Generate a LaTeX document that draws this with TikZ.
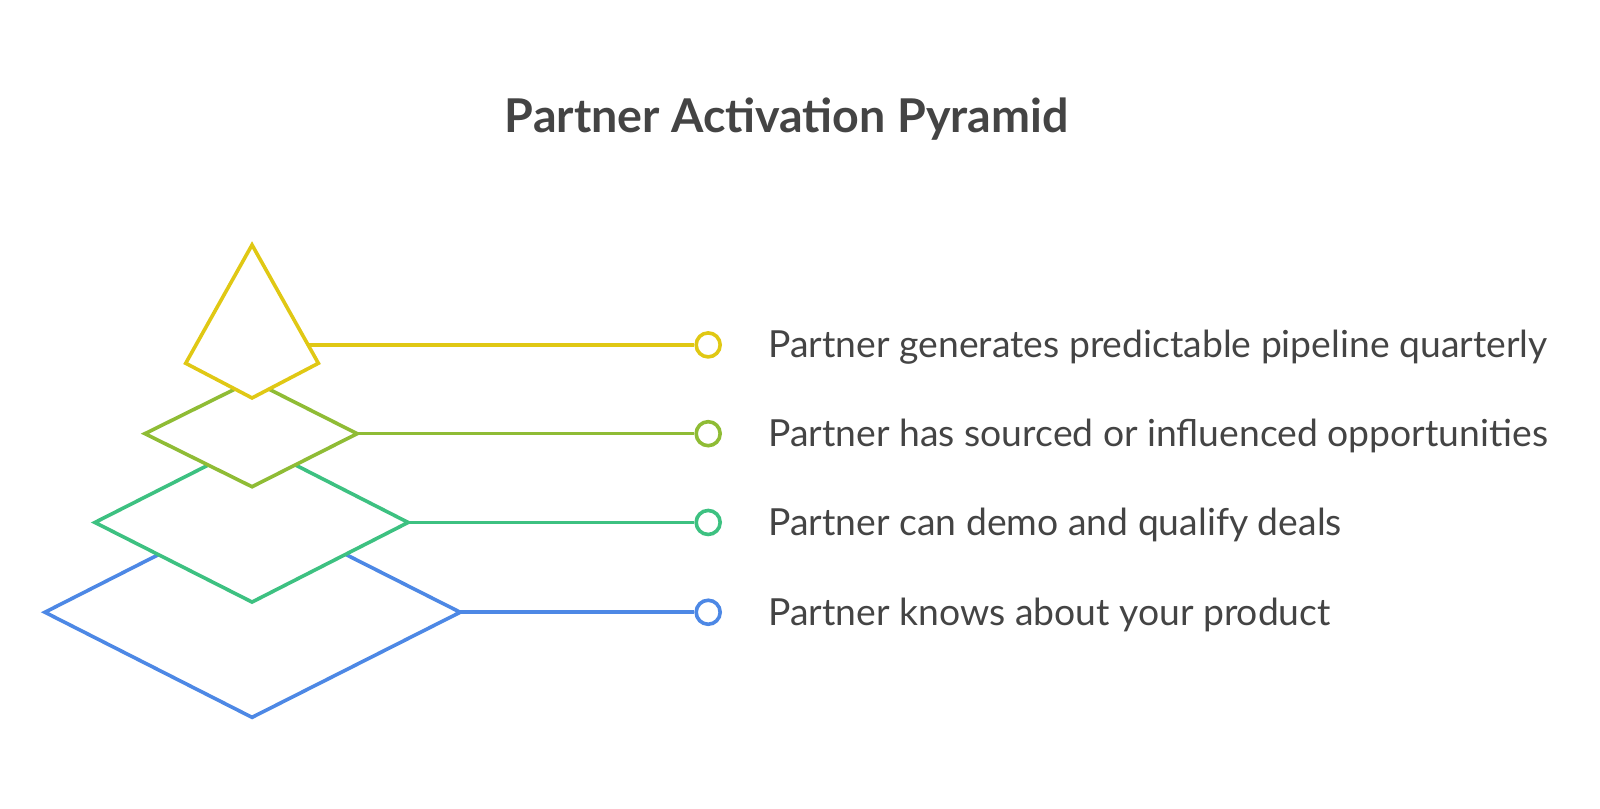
\documentclass[tikz,border=0pt]{standalone}
\usepackage{fontspec}
\setmainfont{Lato}
\definecolor{cyel}{HTML}{E0C814}
\definecolor{clime}{HTML}{8FBC35}
\definecolor{cgreen}{HTML}{3DC181}
\definecolor{cblue}{HTML}{4D88E5}
\definecolor{ctext}{HTML}{444444}
\tikzset{
  layer/.style={line width=3.6pt, fill=white, line join=miter},
  conn/.style={line width=3.6pt},
  dot/.style={circle, draw, line width=3.6pt, fill=white, minimum size=24pt, inner sep=0pt},
  lbl/.style={anchor=base west, inner sep=0pt, text=ctext, font=\fontsize{37.3}{44}\selectfont},
  ttl/.style={anchor=base, inner sep=0pt, text=ctext, font=\fontsize{46.6}{54}\selectfont\bfseries}
}
\begin{document}
\begin{tikzpicture}[x=1.0204pt,y=-1.0204pt]
\useasboundingbox (0,0) rectangle (1568,792);
\node[ttl] (title) at (771,130) {Partner Activation Pyramid};
% blue layer
\draw[layer, draw=cblue] (247,497) -- (451,600) -- (247,703) -- (44,600) -- cycle;
\coordinate (s4) at (451,600);
% green layer
\draw[layer, draw=cgreen] (247,434) -- (400,512) -- (247,590) -- (93,512) -- cycle;
\coordinate (s3) at (400,512);
% lime layer
\draw[layer, draw=clime] (247,373) -- (350,425) -- (247,477) -- (142,425) -- cycle;
\coordinate (s2) at (350,425);
% yellow top
\draw[layer, draw=cyel] (247,240) -- (312,356) -- (247,390) -- (182,356) -- cycle;
\coordinate (s1) at (301.9,338);
% dots
\node[dot, draw=cyel] (d1) at (694,338) {};
\node[dot, draw=clime] (d2) at (694,425) {};
\node[dot, draw=cgreen] (d3) at (694,512) {};
\node[dot, draw=cblue] (d4) at (694,600) {};
\draw[conn, cyel] (s1) -- (d1.west);
\draw[conn, clime] (s2) -- (d2.west);
\draw[conn, cgreen] (s3) -- (d3.west);
\draw[conn, cblue] (s4) -- (d4.west);
% labels
\node[lbl] (t1) at (753,350.5) {Partner generates predictable pipeline quarterly};
\node[lbl] (t2) at (753,437.5) {Partner has sourced or influenced opportunities};
\node[lbl] (t3) at (753,524.5) {Partner can demo and qualify deals};
\node[lbl] (t4) at (753,612.5) {Partner knows about your product};
\end{tikzpicture}
\end{document}
